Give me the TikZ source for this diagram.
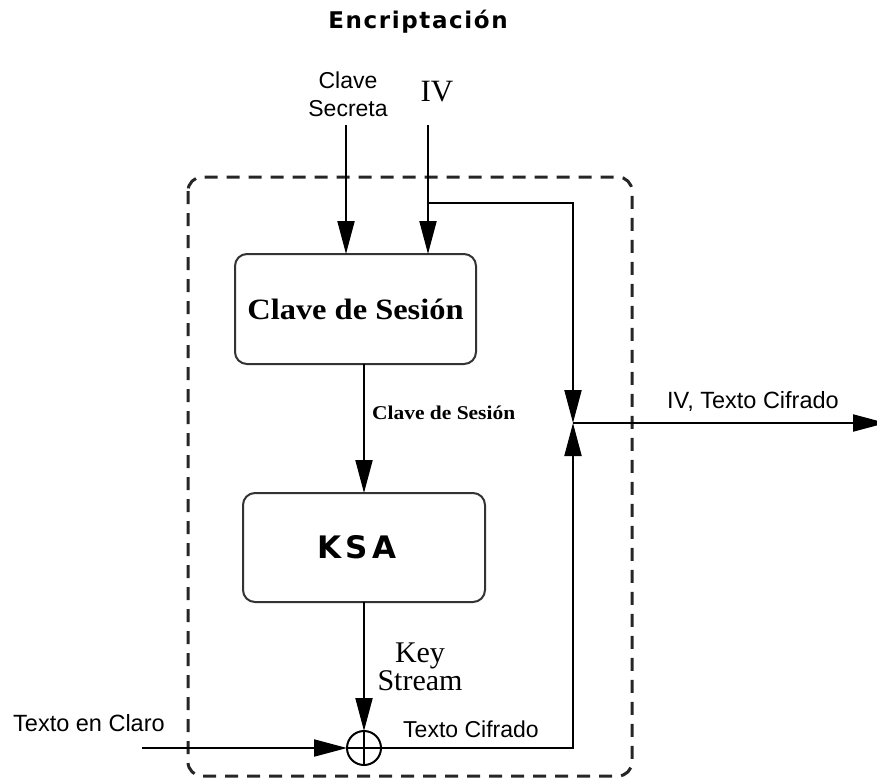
\documentclass[tikz,border=0pt]{standalone}
\usepackage{fontspec}
\setmainfont{Liberation Serif}
\newfontfamily\labelsans{Liberation Sans}
\newfontfamily\boxserif[FakeStretch=1.1]{Liberation Serif}
\newfontfamily\titlefont[LetterSpace=7]{DejaVu Sans}
\newfontfamily\ksafont[LetterSpace=15]{DejaVu Sans}
\usetikzlibrary{arrows.meta}

\tikzset{
  wire/.style={line width=2pt, draw=black},
  arr/.style={wire, -{Triangle[length=33pt,width=17pt]}},
  procbox/.style={draw=black!80, line width=2pt, rounded corners=12pt,
    inner sep=0pt, outer sep=0pt},
  frame/.style={draw=black!85, line width=3pt, dash pattern=on 13pt off 9pt,
    rounded corners=14pt},
  sanslabel/.style={inner sep=0pt, font=\labelsans\fontsize{23}{28}\selectfont},
  xorgate/.style={circle, draw=black, line width=2pt, minimum size=34pt,
    inner sep=0pt, outer sep=0pt,
    path picture={
      \draw[line width=2pt] (path picture bounding box.north) -- (path picture bounding box.south);
      \draw[line width=2pt] (path picture bounding box.west) -- (path picture bounding box.east);
    }},
}

\begin{document}
\begin{tikzpicture}[x=1pt,y=-1pt]
  \useasboundingbox (0,0) rectangle (877,782);
  \clip (0,0) rectangle (877,782);

  % title
  \node[anchor=base, inner sep=0pt, font=\titlefont\bfseries\fontsize{23}{28}\selectfont]
    (title) at (418,28) {Encriptación};

  % enclosing dashed frame
  \draw[frame] (188,177) rectangle (632,776);

  % processing blocks
  \node[procbox, minimum width=241pt, minimum height=110pt,
        font=\boxserif\bfseries\fontsize{29.5}{34}\selectfont]
    (sess) at (355.5,309) {Clave de Sesión};
  \node[procbox, minimum width=242pt, minimum height=109pt,
        font=\ksafont\bfseries\fontsize{31}{36}\selectfont]
    (ksa) at (364,547.5) {KSA\hspace*{14pt}};
  \node[xorgate] (xor) at (364,748) {};

  % inputs
  \node[sanslabel, anchor=north, align=center] (cslabel) at (348,71.5) {Clave\\Secreta};
  \node[anchor=base, inner sep=0pt, font=\fontsize{31}{36}\selectfont] (ivlabel) at (437,101) {IV};
  \coordinate (csin) at (346,125);
  \coordinate (ivin) at (428,125);
  \coordinate (ivtap) at (428,203);
  \coordinate (ivturn) at (573,203);
  \coordinate (merge) at (573,423);
  \coordinate (ctturn) at (573,748);
  \coordinate (ptin) at (142,748);
  \coordinate (out) at (886,423);

  % key path
  \draw[arr] (csin) -- (csin |- sess.north);
  \draw[arr] (ivin) -- (ivin |- sess.north);
  \draw[arr] (sess.south -| ksa.north) -- (ksa.north);
  \draw[arr] (ksa.south) -- (xor.north);

  % data path
  \draw[arr] (ptin) -- (xor.west);
  \draw[arr] (ivtap) -- (ivturn) -- (merge);
  \draw[arr] (xor.east) -- (ctturn) -- (merge);
  \draw[arr] (merge) -- (out);

  % connector labels
  \node[anchor=base west, inner sep=0pt, font=\boxserif\bfseries\fontsize{19.5}{23}\selectfont]
    (sesslabel) at (372,419) {Clave de Sesión};
  \node[anchor=north, align=center, inner sep=0pt, font=\fontsize{30}{24}\selectfont]
    (kslabel) at (420,643) {Key\\Stream};
  \node[sanslabel, anchor=base west, font=\labelsans\fontsize{23.5}{28}\selectfont]
    (ptlabel) at (13,731) {Texto en Claro};
  \node[sanslabel, anchor=base west] (ctlabel) at (403,737) {Texto Cifrado};
  \node[sanslabel, anchor=base west, font=\labelsans\fontsize{23.5}{28}\selectfont]
    (outlabel) at (667,408) {IV, Texto Cifrado};
\end{tikzpicture}
\end{document}
